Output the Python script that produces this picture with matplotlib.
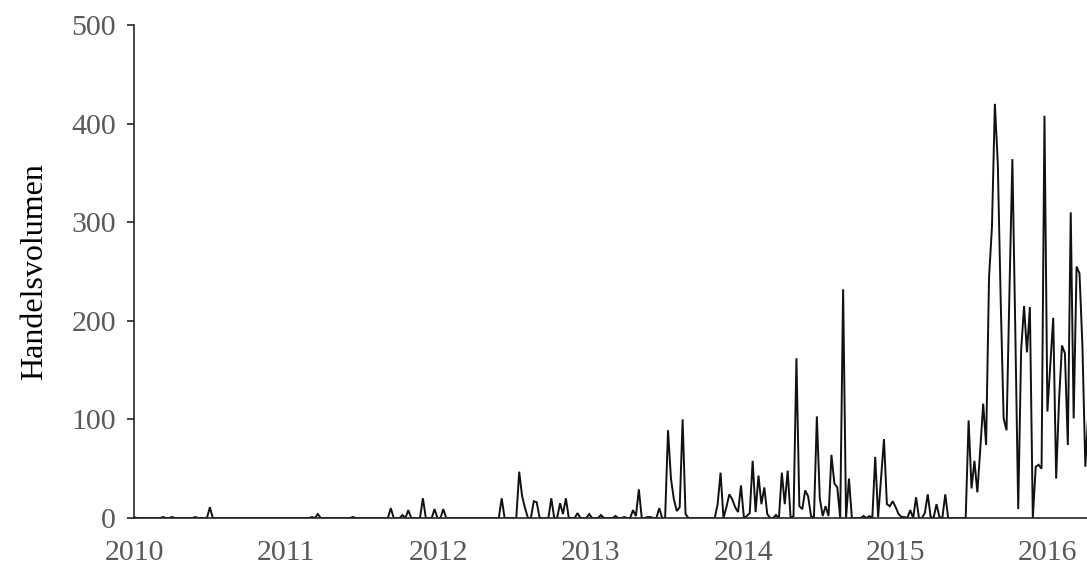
import matplotlib
matplotlib.use("Agg")
import matplotlib.pyplot as plt
import matplotlib.dates as mdates
import pandas as pd

# weekly trading volume, one list per calendar year (weeks start 2010-01-01)
vol_2010 = [1, 0, 0, 0, 0, 0, 0, 0, 0, 0, 1, 0, 0,
            1, 0, 0, 0, 0, 0, 0, 0, 1, 0, 0, 0, 0,
            11, 0, 0, 0, 0, 0, 0, 0, 0, 0, 0, 0, 0,
            0, 0, 0, 0, 0, 0, 0, 0, 0, 0, 0, 0, 0,
            0]
vol_2011 = [0, 0, 0, 0, 0, 0, 0, 0, 1, 0, 4, 0, 0,
            0, 0, 0, 0, 0, 0, 0, 0, 0, 1, 0, 0, 0,
            0, 0, 0, 0, 0, 0, 0, 0, 0, 10, 0, 0, 0,
            3, 0, 8, 0, 0, 0, 0, 20, 0, 0, 0, 9, 0]
vol_2012 = [0, 9, 0, 0, 0, 0, 0, 0, 0, 0, 0, 0, 0,
            0, 0, 0, 0, 0, 0, 0, 0, 20, 0, 0, 0, 0,
            0, 47, 22, 10, 0, 0, 17, 16, 0, 0, 0, 0, 20,
            0, 0, 15, 4, 20, 0, 0, 0, 5, 0, 0, 0, 4]
vol_2013 = [0, 0, 0, 3, 0, 0, 0, 0, 2, 0, 0, 1, 0,
            0, 8, 2, 29, 0, 0, 1, 1, 0, 0, 10, 0, 0,
            89, 40, 19, 7, 11, 100, 4, 0, 0, 0, 0, 0, 0,
            0, 0, 0, 0, 14, 46, 0, 11, 24, 19, 11, 6, 33]
vol_2014 = [0, 2, 5, 58, 6, 43, 14, 31, 4, 0, 0, 3, 0,
            46, 14, 48, 0, 2, 162, 12, 9, 28, 22, 2, 0, 103,
            20, 2, 12, 2, 64, 35, 31, 0, 232, 0, 40, 0, 0,
            0, 0, 2, 0, 2, 0, 62, 1, 40, 80, 14, 12, 17]
vol_2015 = [11, 4, 1, 1, 0, 8, 0, 21, 0, 0, 5, 24, 1,
            0, 14, 1, 0, 24, 0, 0, 0, 0, 0, 0, 0, 99,
            30, 58, 26, 70, 116, 74, 244, 295, 420, 360, 220, 101, 89,
            230, 364, 190, 9, 170, 215, 168, 214, 0, 52, 54, 50, 408]
vol_2016 = [108, 155, 203, 40, 120, 175, 167, 74, 310, 101, 255, 248, 175, 52, 106]

volume = vol_2010 + vol_2011 + vol_2012 + vol_2013 + vol_2014 + vol_2015 + vol_2016
weeks = pd.date_range("2010-01-01", periods=len(volume), freq="7D")

y_ticks = [0, 100, 200, 300, 400, 500]

plt.rcParams["font.family"] = ["Liberation Serif", "DejaVu Serif"]

fig = plt.figure(figsize=(10.87, 5.69), dpi=100)
ax = fig.add_axes([134 / 1087, 51 / 569, 953 / 1087, 493 / 569])

ax.plot(weeks, volume, color="#111111", linewidth=1.4, solid_joinstyle="miter")

ax.set_ylim(0, 500)
ax.set_yticks(y_ticks)
ax.set_xlim(pd.Timestamp("2010-01-01"), pd.Timestamp("2016-04-05"))
ax.xaxis.set_major_locator(mdates.YearLocator())
ax.xaxis.set_major_formatter(mdates.DateFormatter("%Y"))

ax.spines["top"].set_visible(False)
ax.spines["right"].set_visible(False)
for side in ("left", "bottom"):
    ax.spines[side].set_color("#262626")
    ax.spines[side].set_linewidth(1.2)

ax.tick_params(axis="y", direction="out", length=5, width=1.2, color="#262626",
               labelsize=21.5, labelcolor="#595959", pad=8)
ax.tick_params(axis="x", length=0, labelsize=21.5, labelcolor="#595959", pad=16)

ax.set_ylabel("Handelsvolumen", fontsize=23, color="black", labelpad=16)

fig.savefig("out.png", dpi=100)
